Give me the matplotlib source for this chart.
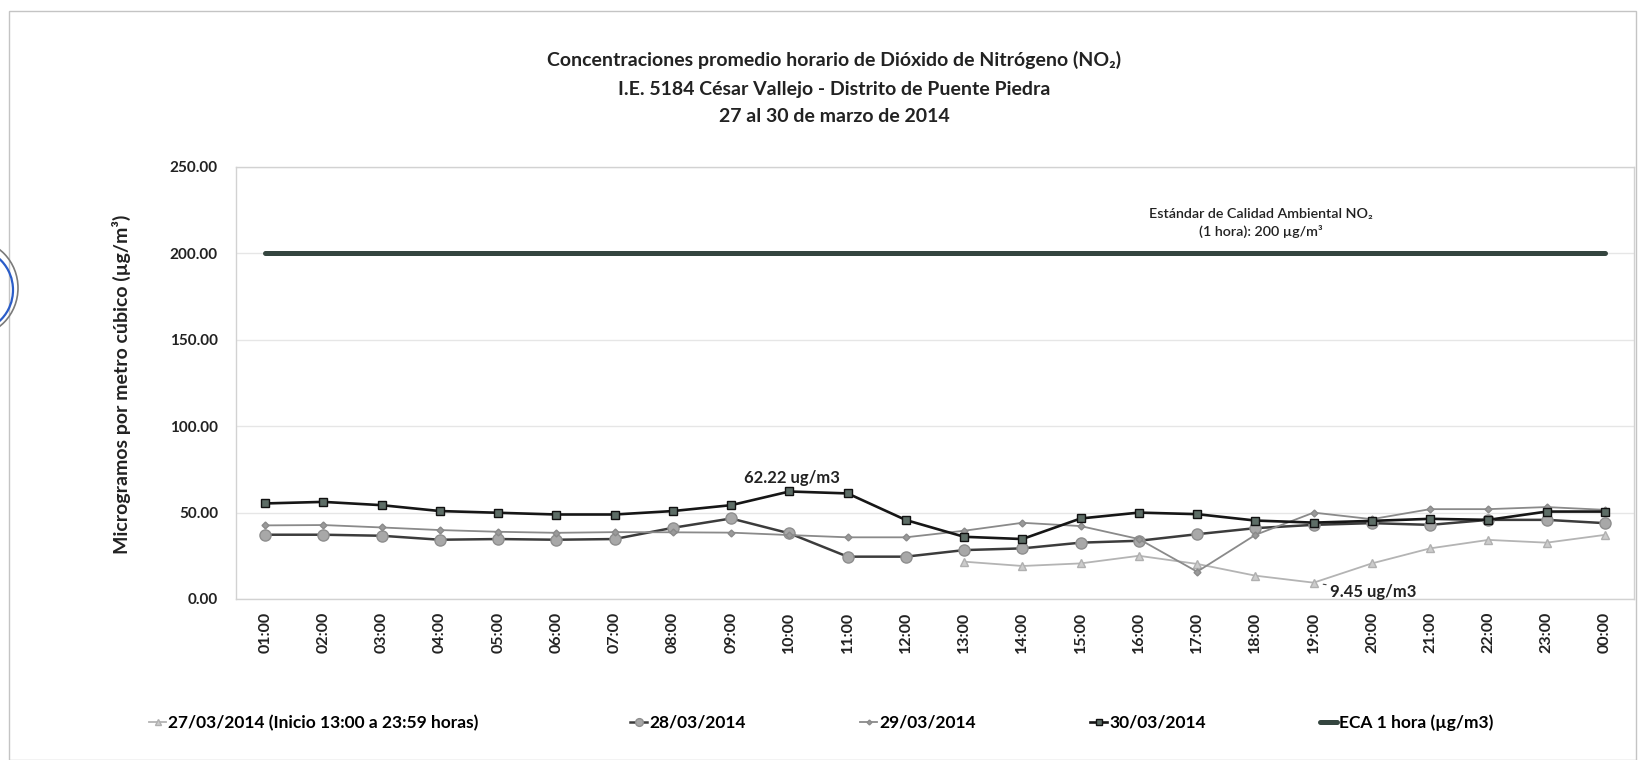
import numpy as np
import matplotlib
matplotlib.use('Agg')
import matplotlib.pyplot as plt
from matplotlib.patches import Ellipse, Rectangle

plt.rcParams['font.family'] = ['Lato', 'DejaVu Sans']

# Datos (ug/m3)
horas = ['01:00', '02:00', '03:00', '04:00', '05:00', '06:00', '07:00', '08:00',
         '09:00', '10:00', '11:00', '12:00', '13:00', '14:00', '15:00', '16:00',
         '17:00', '18:00', '19:00', '20:00', '21:00', '22:00', '23:00', '00:00']
d27 = [np.nan] * 12 + [21.6, 19.1, 20.6, 25.0, 20.3, 13.5, 9.45, 20.6, 29.3, 34.2, 32.6, 37.1]
d28 = [37.2, 37.2, 36.6, 34.3, 34.7, 34.3, 34.7, 41.2, 46.6, 38.0, 24.5, 24.5,
       28.3, 29.3, 32.6, 33.7, 37.5, 41.0, 42.9, 43.9, 42.9, 45.8, 45.8, 43.9]
d29 = [42.6, 42.8, 41.4, 39.9, 38.9, 38.3, 38.7, 38.6, 38.4, 37.0, 35.7, 35.7,
       39.5, 44.1, 42.2, 34.7, 15.8, 37.1, 50.0, 46.2, 52.0, 52.0, 53.2, 51.6]
d30 = [55.3, 56.2, 54.3, 50.9, 49.9, 48.9, 48.9, 50.9, 54.3, 62.22, 61.1, 45.7,
       36.0, 34.7, 46.6, 50.0, 49.1, 45.4, 44.2, 45.2, 46.4, 45.8, 50.6, 50.6]
eca = [200] * 24

x = np.arange(len(horas))

fig = plt.figure(figsize=(16.44, 7.6), dpi=100)
ax = fig.add_axes([236 / 1644, 1 - 599 / 760, 1398 / 1644, 432 / 760])

# Series
l27, = ax.plot(x, d27, color='#b4b4b4', lw=1.3, marker='^', ms=6,
               mfc='#cccccc', mec='#b0b0b0', label='27/03/2014 (Inicio 13:00 a 23:59 horas)')
l28, = ax.plot(x, d28, color='#3c3c3c', lw=1.8, marker='o', ms=8,
               mfc='#a8a8a8', mec='#8e8e8e', label='28/03/2014')
l29, = ax.plot(x, d29, color='#8a8a8a', lw=1.3, marker='D', ms=3.5,
               mfc='#9a9a9a', mec='#8a8a8a', label='29/03/2014')
l30, = ax.plot(x, d30, color='#161616', lw=1.9, marker='s', ms=5.5,
               mfc='#5d6d66', mec='#111111', label='30/03/2014')
leca, = ax.plot(x, eca, color='#34453f', lw=3.6, solid_capstyle='round',
                label='ECA 1 hora (µg/m3)')

ax.set_xlim(-0.5, len(horas) - 0.5)
ax.set_ylim(0, 250)
ax.set_yticks(np.arange(0, 251, 50))
ax.set_yticklabels(['%.2f' % v for v in np.arange(0, 251, 50)])
ax.set_xticks(x)
ax.set_xticklabels(horas, rotation=90)
ax.tick_params(length=0)
ax.tick_params(axis='y', pad=13, labelsize=11, colors='#222222')
ax.tick_params(axis='x', pad=9, labelsize=11.5, colors='#222222')
for lab in ax.get_xticklabels() + ax.get_yticklabels():
    lab.set_fontweight('bold')
ax.yaxis.grid(True, color='#e6e6e6', lw=1)
ax.set_axisbelow(True)
for s in ax.spines.values():
    s.set_color('#d2d2d2')
    s.set_linewidth(1)

# Etiquetas de valores
imax = int(np.nanargmax(d30))
ax.annotate('%.2f ug/m3' % d30[imax], xy=(imax, d30[imax]), xytext=(2, 10),
            textcoords='offset points', ha='center', va='center',
            fontsize=12, fontweight='bold', color='#222222')
imin = int(np.nanargmin(d27))
ax.annotate('%.2f ug/m3' % d27[imin], xy=(imin, d27[imin]), xytext=(12, -7),
            textcoords='offset points', ha='left', va='center',
            fontsize=12, fontweight='bold', color='#222222',
            arrowprops=dict(arrowstyle='-', color='#444444', lw=0.8,
                            shrinkA=1, shrinkB=7))
ax.text(17.1, 217.5, 'Estándar de Calidad Ambiental NO₂\n(1 hora): 200 µg/m³',
        ha='center', va='center', fontsize=10.3, fontweight='semibold',
        color='#222222', linespacing=1.5)

# Titulo
tit = ['Concentraciones promedio horario de Dióxido de Nitrógeno (NO₂)',
       'I.E. 5184 César Vallejo - Distrito de Puente Piedra',
       '27 al 30 de marzo de 2014']
for t, yp in zip(tit, [60, 89, 116]):
    fig.text(834 / 1644, 1 - yp / 760, t, ha='center', va='center',
             fontsize=14, fontweight='bold', color='#222222')

fig.text(121 / 1644, 1 - 384 / 760, 'Microgramos por metro cúbico (µg/m³)',
         rotation=90, ha='center', va='center', fontsize=14,
         fontweight='bold', color='#222222')

# Leyenda
for h, xp in zip([l27, l28, l29, l30, leca], [149, 630, 860, 1090, 1320]):
    fig.legend(handles=[h], loc='center left', bbox_to_anchor=(xp / 1644, 1 - 723 / 760),
               frameon=False, borderpad=0, borderaxespad=0, handlelength=1.0,
               handletextpad=0.1, markerscale=0.7,
               prop={'weight': 'bold', 'size': 12.5})

# Marco y sello
fig.add_artist(Rectangle((9 / 1644, 0), 1627 / 1644, 1 - 11 / 760, transform=fig.transFigure,
                         fill=False, ec='#c4c4c4', lw=1))
fig.add_artist(Ellipse((-28 / 1644, 1 - 288 / 760), 92 / 1644, 96 / 760,
                       transform=fig.transFigure, fill=False, ec='#7a7a7a', lw=1.2))
fig.add_artist(Ellipse((-26 / 1644, 1 - 290 / 760), 78 / 1644, 82 / 760,
                       transform=fig.transFigure, fill=False, ec='#2a5cc8', lw=1.6))

fig.savefig('out.png', dpi=100, facecolor='white')
